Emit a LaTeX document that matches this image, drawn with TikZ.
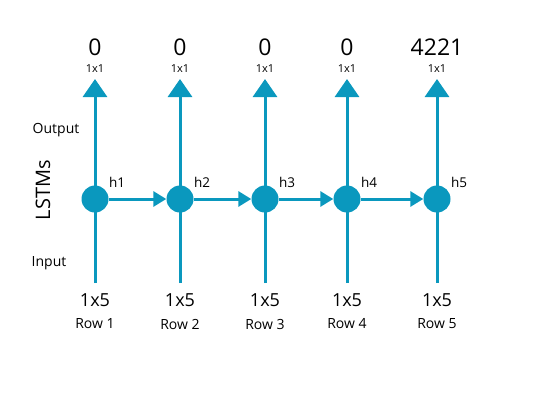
\documentclass[tikz,border=0pt]{standalone}
\usepackage{fontspec}
\setmainfont{Open Sans}
\usetikzlibrary{arrows.meta}
\definecolor{lstm}{HTML}{0A98BE}
\begin{document}
\begin{tikzpicture}[x=1pt,y=-1pt,
  cell/.style={circle,fill=lstm,inner sep=0pt,minimum size=27pt},
  vline/.style={draw=lstm,line width=3pt},
  uparrow/.style={vline,-{Triangle[length=18pt,width=24pt]}},
  harrow/.style={vline,-{Triangle[length=13pt,width=15pt]}},
  big/.style={font=\fontsize{23}{25}\selectfont},
  small/.style={font=\fontsize{11}{12}\selectfont},
  mid/.style={font=\fontsize{18}{20}\selectfont},
  rowl/.style={font=\fontsize{14}{16}\selectfont},
  hl/.style={font=\fontsize{13.5}{15}\selectfont},
  side/.style={font=\fontsize{14}{16}\selectfont}]
\useasboundingbox (0,0) rectangle (534,401);
\foreach \i/\x/\o in {1/95/0,2/180/0,3/265/0,4/347/0,5/437/4221}{
  \coordinate (b\i) at (\x,283);
  \coordinate (t\i) at (\x,79);
  \draw[uparrow] (b\i) -- (t\i);
  \node[cell] (c\i) at (\x,199) {};
  \node[big] (o\i) at (\x,47) {\o};
  \node[small] (s\i) at (\x,69) {1x1};
  \node[mid] (in\i) at (\x,300) {1x5};
  \node[rowl] (r\i) at (\x,324) {Row \i};
  \node[hl] (h\i) at (\x+22,182) {h\i};
}
\foreach \a/\b in {1/2,2/3,3/4,4/5}{
  \draw[harrow] (c\a) -- (c\b);
}
\node[side] (out) at (56,130) {Output};
\node[side] (inp) at (49,263) {Input};
\node[font=\fontsize{20}{22}\selectfont,rotate=90] (ls) at (43,190) {LSTMs};
\end{tikzpicture}
\end{document}
